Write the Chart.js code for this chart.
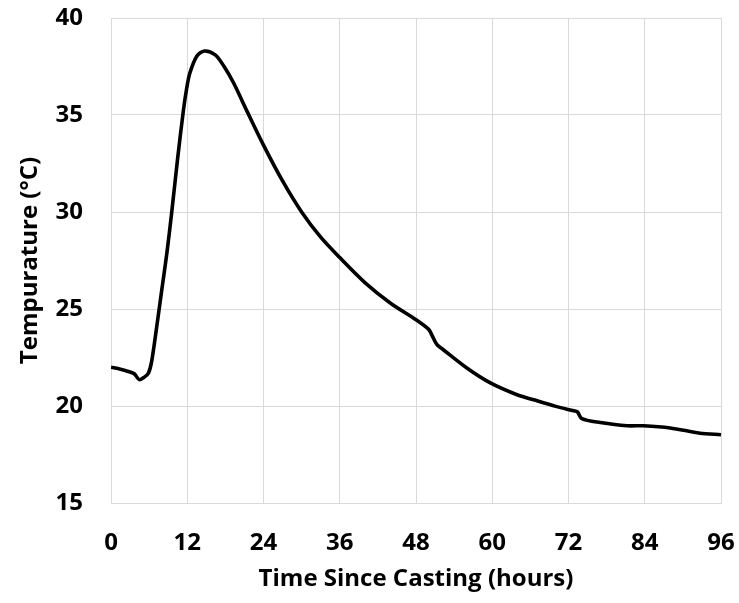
<!DOCTYPE html>
<html>
<head>
<meta charset="utf-8">
<script src="https://cdn.jsdelivr.net/npm/chart.js@4"></script>
<style>
  html, body { margin: 0; padding: 0; background: #fff; }
  #wrap { width: 739px; height: 603px; position: relative; }
</style>
</head>
<body>
<div id="wrap"><canvas id="c" width="739" height="603"></canvas></div>
<script>
const hours = [0, 1.5, 3.0, 3.7, 4.45, 5.3, 5.9, 6.4, 7.2, 8.0, 8.8, 9.56, 10.5, 11.4, 11.9, 12.4, 13.5, 14.7, 16.4, 17.8, 19.3, 21.4, 24, 27, 30, 33, 36, 40, 44, 48, 50.0, 50.5, 51.3, 52.3, 56.0, 59.7, 63.9, 66.5, 70, 72.8, 73.4, 74.1, 77, 81.2, 83.8, 88.0, 92.7, 96];
const temperature = [22.0, 21.9, 21.75, 21.65, 21.36, 21.5, 21.7, 22.3, 24.1, 26.0, 27.9, 30.0, 32.8, 35.25, 36.35, 37.15, 38.03, 38.3, 38.1, 37.5, 36.65, 35.2, 33.45, 31.6, 30.0, 28.7, 27.65, 26.35, 25.3, 24.45, 23.95, 23.65, 23.16, 22.9, 21.96, 21.19, 20.58, 20.32, 19.98, 19.75, 19.7, 19.35, 19.15, 18.98, 18.98, 18.87, 18.6, 18.52];
const xTicks = [0, 12, 24, 36, 48, 60, 72, 84, 96];
const yTicks = [15, 20, 25, 30, 35, 40];
const xTitle = 'Time Since Casting (hours)';
const yTitle = 'Tempurature (°C)';

const points = hours.map((h, i) => ({ x: h, y: temperature[i] }));
const fontFam = '"Open Sans", "Noto Sans", sans-serif';
const gridColor = '#d9d9d9';

new Chart(document.getElementById('c'), {
  type: 'line',
  data: {
    datasets: [{
      data: points,
      borderColor: '#000000',
      borderWidth: 3.6,
      pointRadius: 0,
      fill: false,
      tension: 0.3
    }]
  },
  options: {
    responsive: false,
    animation: false,
    events: [],
    layout: { padding: { top: 18, right: 18, bottom: 0, left: 0 } },
    plugins: { legend: { display: false }, tooltip: { enabled: false } },
    scales: {
      x: {
        type: 'linear',
        min: 0, max: 96,
        afterBuildTicks: (s) => { s.ticks = xTicks.map(v => ({ value: v })); },
        afterFit: (s) => { s.height = 100; s.paddingLeft = 0; s.paddingRight = 0; },
        grid: { color: gridColor, lineWidth: 1, drawTicks: false },
        border: { color: gridColor, width: 1 },
        ticks: { color: '#000', padding: 26, maxRotation: 0, autoSkip: false,
                 font: { family: fontFam, size: 24, weight: 'bold' } },
        title: { display: true, text: xTitle, color: '#000',
                 font: { family: fontFam, size: 24, weight: 'bold' },
                 padding: { top: 9, bottom: 9 } }
      },
      y: {
        type: 'linear',
        min: 15, max: 40,
        afterBuildTicks: (s) => { s.ticks = yTicks.map(v => ({ value: v })); },
        afterFit: (s) => { s.width = 111; s.paddingTop = 0; s.paddingBottom = 0; },
        grid: { color: gridColor, lineWidth: 1, drawTicks: false },
        border: { color: gridColor, width: 1 },
        ticks: { color: '#000', padding: 28,
                 font: { family: fontFam, size: 24, weight: 'bold' } },
        title: { display: true, text: yTitle, color: '#000',
                 font: { family: fontFam, size: 24, weight: 'bold' },
                 padding: { top: 16, bottom: 16 } }
      }
    }
  }
});
</script>
</body>
</html>
